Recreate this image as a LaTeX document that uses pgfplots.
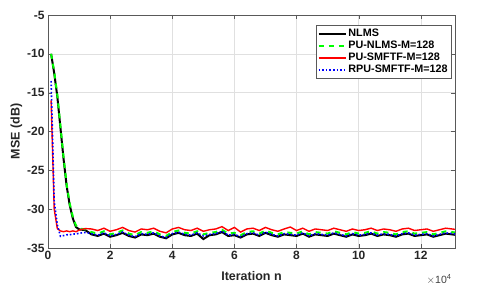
\documentclass[border=0pt]{standalone}
\usepackage{pgfplots}
\pgfplotsset{compat=1.18}
\usepackage{pgfplotstable}
\usepackage{fontspec}
\setmainfont{Liberation Sans}
\pgfplotstableread{
x black green red blue
0.1 -10.0 -10.0 -16.0 -13.5
0.2 -12.5 -12.3 -30.0 -29.0
0.3 -15.5 -15.3 -32.5 -32.0
0.4 -19.5 -19.3 -32.8 -33.5
0.5 -23.5 -23.3 -32.9 -33.4
0.6 -27.0 -26.8 -32.8 -33.3
0.7 -29.5 -29.3 -32.9 -33.3
0.8 -31.2 -31.0 -32.8 -33.2
0.9 -32.3 -32.1 -32.9 -33.2
1.0 -32.6 -32.5 -32.7 -33.1
1.2 -32.7 -32.6 -32.5 -33.0
1.4 -33.25 -32.95 -32.55 -33.15
1.6 -33.45 -33.15 -32.75 -33.35
1.8 -33.15 -32.85 -32.45 -33.05
2.0 -33.55 -33.25 -32.85 -33.45
2.2 -33.35 -33.05 -32.65 -33.25
2.4 -33.05 -32.75 -32.35 -32.95
2.6 -33.45 -33.15 -32.75 -33.35
2.8 -33.65 -33.35 -32.95 -33.55
3.0 -33.25 -32.95 -32.55 -33.15
3.2 -33.35 -33.05 -32.65 -33.25
3.4 -33.15 -32.85 -32.45 -33.05
3.6 -33.55 -33.25 -32.85 -33.45
3.8 -33.75 -33.45 -33.05 -33.65
4.0 -33.25 -32.95 -32.55 -33.15
4.2 -33.05 -32.75 -32.35 -32.95
4.4 -33.35 -33.05 -32.65 -33.25
4.6 -33.45 -33.15 -32.75 -33.35
4.8 -33.15 -32.85 -32.45 -33.05
5.0 -33.85 -33.25 -32.85 -33.45
5.2 -33.35 -33.05 -32.65 -33.25
5.4 -33.25 -32.95 -32.55 -33.15
5.6 -32.95 -32.65 -32.25 -32.85
5.8 -33.45 -33.15 -32.75 -33.35
6.0 -33.35 -33.05 -32.35 -33.25
6.2 -33.65 -33.35 -32.95 -33.55
6.4 -33.25 -32.95 -32.55 -33.15
6.6 -33.15 -32.85 -32.45 -33.05
6.8 -33.45 -33.15 -32.75 -33.35
7.0 -33.05 -32.75 -32.35 -32.95
7.2 -33.35 -33.05 -32.65 -33.25
7.4 -33.55 -33.25 -32.85 -33.45
7.6 -33.25 -32.95 -32.55 -33.15
7.8 -33.35 -33.05 -32.30 -33.25
8.0 -33.45 -33.15 -32.75 -33.35
8.2 -33.15 -32.85 -32.45 -33.05
8.4 -33.55 -33.25 -32.85 -33.45
8.6 -33.25 -32.95 -32.55 -33.15
8.8 -33.35 -33.05 -32.65 -33.25
9.0 -33.45 -33.15 -32.75 -33.35
9.2 -33.15 -32.85 -32.45 -33.05
9.4 -33.35 -33.05 -32.65 -33.25
9.6 -33.55 -33.25 -32.85 -33.45
9.8 -33.25 -32.95 -32.55 -33.15
10.0 -33.45 -33.15 -32.75 -33.35
10.2 -33.35 -33.05 -32.65 -33.25
10.4 -33.15 -32.85 -32.45 -33.05
10.6 -33.45 -33.15 -32.75 -33.35
10.8 -33.25 -32.95 -32.55 -33.15
11.0 -33.35 -33.05 -32.65 -33.25
11.2 -33.55 -33.25 -32.85 -33.45
11.4 -33.25 -32.95 -32.55 -33.15
11.6 -33.15 -32.85 -32.45 -33.05
11.8 -33.45 -33.15 -32.75 -33.35
12.0 -33.35 -33.05 -32.65 -33.25
12.2 -33.25 -32.95 -32.55 -33.15
12.4 -33.55 -33.25 -32.85 -33.45
12.6 -33.35 -33.05 -32.65 -33.25
12.8 -33.15 -32.85 -32.45 -33.05
13.0 -33.25 -32.95 -32.55 -33.15
13.1 -33.30 -33.00 -32.60 -33.20
}\datatable
\begin{document}
\begin{tikzpicture}
\path[use as bounding box] (-48pt,-54pt) rectangle (432pt,248pt);
\begin{axis}[
  at={(0,0)}, anchor=south west,
  scale only axis, width=407pt, height=233pt,
  xmin=0, xmax=13.1, ymin=-35, ymax=-5,
  xtick={0,2,4,6,8,10,12},
  xticklabels={0,2,4,6,8,10,12},
  ytick={-35,-30,-25,-20,-15,-10,-5},
  yticklabels={-35,-30,-25,-20,-15,-10,-5},
  tick label style={font=\fontsize{12}{14}\selectfont\bfseries, text=black!85},
  xlabel={\bfseries Iteration n},
  ylabel={\bfseries MSE (dB)},
  label style={font=\fontsize{12.5}{14}\selectfont, text=black!85},
  xlabel style={yshift=-5pt},
  ylabel style={yshift=-2pt},
  grid=major,
  major grid style={black!12, line width=0.5pt},
  axis line style={black!65, line width=0.7pt},
  tick style={black!65},
  tick align=inside,
  major tick length=4pt,
  legend style={at={(1,1)}, anchor=north east, xshift=-3pt, yshift=-10pt,
    font=\fontsize{10.8}{13}\selectfont\bfseries, draw=black!65, line width=0.6pt,
    row sep=-1pt, inner sep=2pt},
  legend cell align=left,
  legend image post style={line width=1.5pt},
  legend image code/.code={\draw[#1] (0cm,0cm) -- (0.95cm,0cm);},
]
\addplot[black, line width=2pt] table[x=x, y=black] {\datatable};
\addlegendentry{NLMS}
\addplot[green, line width=2pt, dash pattern=on 5pt off 5pt] table[x=x, y=green] {\datatable};
\addlegendentry{PU-NLMS-M=128}
\addplot[red, line width=1.4pt] table[x=x, y=red] {\datatable};
\addlegendentry{PU-SMFTF-M=128}
\addplot[blue, line width=1.6pt, dotted] table[x=x, y=blue] {\datatable};
\addlegendentry{RPU-SMFTF-M=128}
\end{axis}
\node[anchor=east, font=\fontsize{10.5}{12}\selectfont, text=black!75] at (407pt,-31pt) {$\times$10\textsuperscript{4}};
\end{tikzpicture}
\end{document}
